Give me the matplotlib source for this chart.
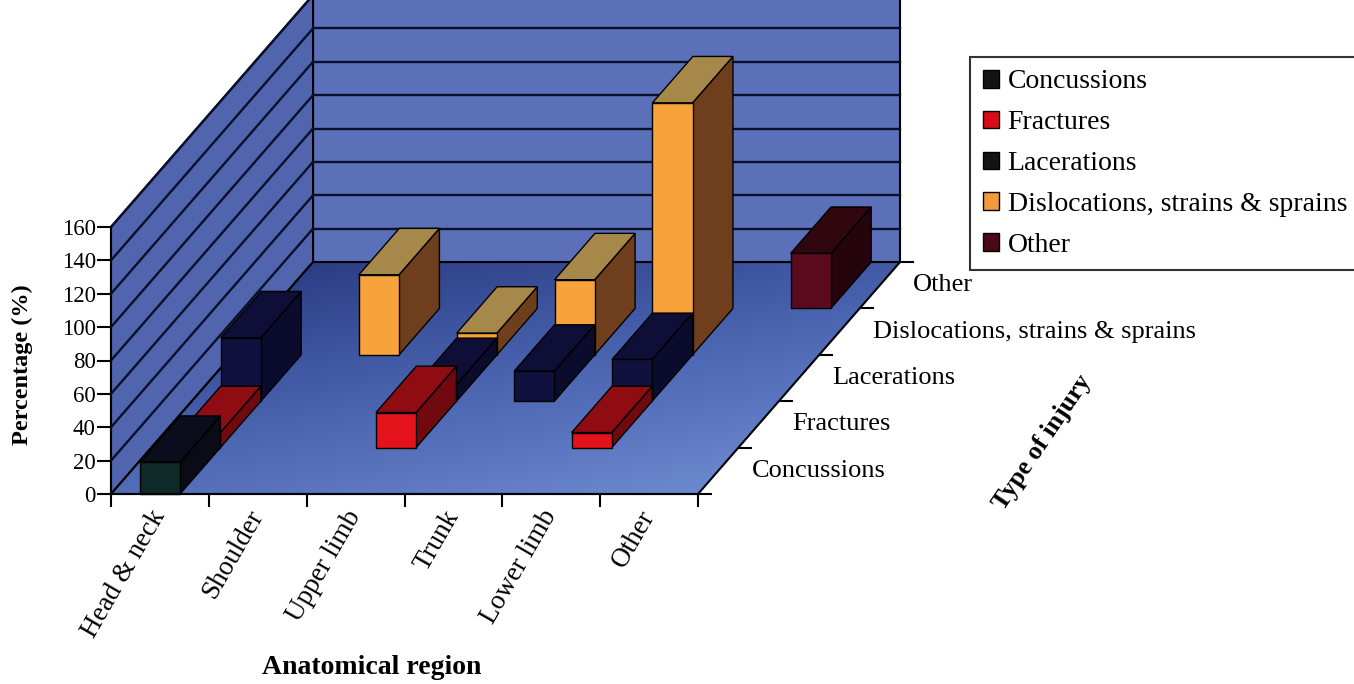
import numpy as np
import matplotlib.pyplot as plt
import matplotlib.markers as mmarkers
from matplotlib.patches import Polygon, Patch
from matplotlib.colors import LinearSegmentedColormap

plt.rcParams['font.family'] = ['Liberation Serif', 'DejaVu Serif']

regions = ["Head & neck", "Shoulder", "Upper limb", "Trunk", "Lower limb", "Other"]
injuries = ["Concussions", "Fractures", "Lacerations",
            "Dislocations, strains & sprains", "Other"]

# percentage per anatomical region, one list per type of injury
concussions = [19, 0, 0, 0, 0, 0]
fractures = [9, 0, 21, 0, 9, 0]
lacerations = [38, 0, 10, 18, 25, 0]
dislocations = [0, 48, 13, 45, 151, 0]
other = [0, 0, 0, 0, 0, 33]
series = [concussions, fractures, lacerations, dislocations, other]

# face shading for each series: front, top, side
front_colors = ['#0d2a28', '#e3121b', '#11113f', '#f8a23c', '#5c0b1e']
top_colors = ['#0b0d1c', '#8e0c12', '#0e0e36', '#a6884a', '#30060f']
side_colors = ['#090b17', '#700a0f', '#0b0b2d', '#6f3f1d', '#25040c']
legend_colors = ['#141414', '#d70d15', '#141414', '#f29a3a', '#4a0818']

# oblique projection: one step in depth moves right and up (data units)
DX, DY = 0.413, 27.8
BAR_W = 0.41
ZMAX = 160
NCAT = len(regions)
NDEP = len(injuries)


def proj(x, z, d):
    return x + d * DX, z + d * DY


def face(ax, pts, color, lw=1.0, zorder=3, edge='black'):
    poly = Polygon([proj(*p) for p in pts], closed=True, facecolor=color,
                   edgecolor=edge, lw=lw, clip_on=False, zorder=zorder)
    ax.add_patch(poly)
    return poly


def bar_box(ax, k, i, h):
    x0 = k + 0.5 - BAR_W / 2
    x1 = x0 + BAR_W
    d0, d1 = i, i + 1
    face(ax, [(x1, 0, d0), (x1, 0, d1), (x1, h, d1), (x1, h, d0)], side_colors[i])
    face(ax, [(x0, h, d0), (x1, h, d0), (x1, h, d1), (x0, h, d1)], top_colors[i])
    face(ax, [(x0, 0, d0), (x1, 0, d0), (x1, h, d0), (x0, h, d0)], front_colors[i])


fig = plt.figure(figsize=(13.54, 6.84), dpi=100)
ax = fig.add_axes([111 / 1354, 190 / 684, 587 / 1354, 267 / 684])
ax.patch.set_visible(False)

# walls
face(ax, [(0, 0, NDEP), (NCAT, 0, NDEP), (NCAT, ZMAX, NDEP), (0, ZMAX, NDEP)],
     '#5b70b8', lw=1.5, zorder=0)
face(ax, [(0, 0, 0), (0, 0, NDEP), (0, ZMAX, NDEP), (0, ZMAX, 0)],
     '#5065ae', lw=1.5, zorder=0)
for v in range(20, ZMAX + 1, 20):
    xs, ys = zip(proj(0, v, NDEP), proj(NCAT, v, NDEP))
    ax.plot(xs, ys, color='#0a0f2a', lw=1.7, clip_on=False, zorder=1)
    xs, ys = zip(proj(0, v, 0), proj(0, v, NDEP))
    ax.plot(xs, ys, color='#0a0f2a', lw=1.7, clip_on=False, zorder=1)

# floor with a dark-to-light gradient
floor = face(ax, [(0, 0, 0), (NCAT, 0, 0), (NCAT, 0, NDEP), (0, 0, NDEP)],
             'none', lw=1.5, zorder=1.5)
gx, gy = np.meshgrid(np.linspace(0, 1, 200), np.linspace(0, 1, 200))
grad = 0.4 * gx + 0.6 * (1 - gy)
floor_cmap = LinearSegmentedColormap.from_list('floor', ['#24337a', '#4a64b0', '#7592d6'])
im = ax.imshow(grad, cmap=floor_cmap, origin='lower', aspect='auto',
               extent=(0, NCAT + NDEP * DX, 0, NDEP * DY), zorder=1.2)
im.set_clip_path(floor)
im.set_clip_box(fig.bbox)

# bars, back row first
for i in range(NDEP - 1, -1, -1):
    for k, h in enumerate(series[i]):
        if h > 0:
            bar_box(ax, k, i, h)

ax.set_xlim(0, NCAT)
ax.set_ylim(0, ZMAX)
for s in ['top', 'right']:
    ax.spines[s].set_visible(False)
for s in ['left', 'bottom']:
    ax.spines[s].set_linewidth(1.5)
    ax.spines[s].set_zorder(5)

ax.set_yticks(range(0, ZMAX + 1, 20))
ax.tick_params(axis='y', direction='out', length=10, width=1.5, labelsize=16.5, pad=1)
ax.set_xticks(range(NCAT + 1))
ax.set_xticklabels([])
ax.set_xticks(np.arange(NCAT) + 0.5, regions, minor=True)
ax.tick_params(axis='x', which='major', direction='out', length=9, width=1.5)
ax.tick_params(axis='x', which='minor', length=0, pad=13, labelsize=19.5)
for lab in ax.get_xticklabels(minor=True):
    lab.set_rotation(60)
    lab.set_rotation_mode('anchor')
    lab.set_ha('right')
    lab.set_va('center')

# depth axis along the right edge of the floor
for i in range(NDEP + 1):
    x, y = proj(NCAT, 0, i)
    ax.plot(x, y, marker=mmarkers.TICKRIGHT, ms=10, mew=1.5, color='black',
            clip_on=False, zorder=5)
for i, name in enumerate(injuries):
    ax.annotate(name, proj(NCAT, 0, i + 0.5), xytext=(24, 0),
                textcoords='offset points', ha='left', va='center', fontsize=19,
                annotation_clip=False)

fig.text(372 / 1354, 1 - 667 / 684, "Anatomical region", ha='center', va='center',
         fontsize=20, fontweight='bold')
fig.text(22 / 1354, 1 - 365 / 684, "Percentage (%)", ha='center', va='center',
         rotation=90, fontsize=17.5, fontweight='bold')
fig.text(1042 / 1354, 1 - 442 / 684, "Type of injury", ha='center', va='center',
         rotation=56, fontsize=18.5, fontweight='bold')

handles = [Patch(facecolor=c, edgecolor='black', lw=1.0) for c in legend_colors]
leg = fig.legend(handles, injuries, loc='upper left',
                 bbox_to_anchor=(970 / 1354, 1 - 57 / 684), frameon=True,
                 fancybox=False, edgecolor='black', fontsize=20,
                 handlelength=0.6, handleheight=0.6, handletextpad=0.3,
                 borderaxespad=0, borderpad=0.45, labelspacing=0.57)
leg.get_frame().set_linewidth(1.5)

fig.savefig('out.png', dpi=100)
